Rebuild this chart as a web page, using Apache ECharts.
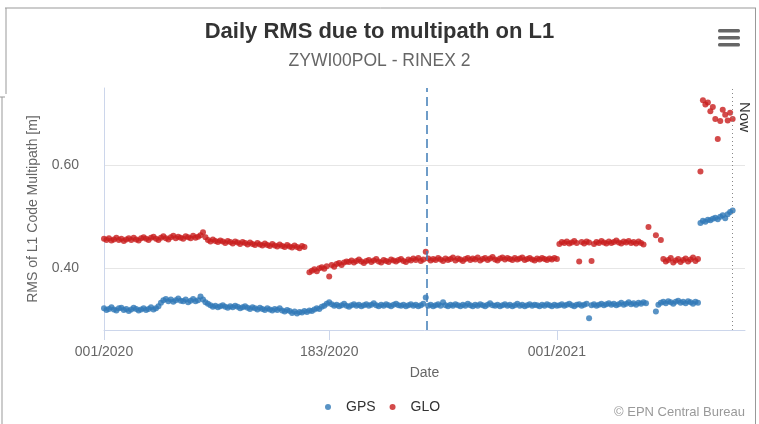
<!DOCTYPE html>
<html>
<head>
<meta charset="utf-8">
<title>Daily RMS due to multipath on L1</title>
<script src="https://cdn.jsdelivr.net/npm/echarts@6/dist/echarts.min.js"></script>
<style>
  html, body { margin: 0; padding: 0; background: #fff; }
  #main { width: 759px; height: 424px; }
</style>
</head>
<body>
<div id="main"></div>
<script>
// day of year counted from 001/2020, one value every 2 days
var dayStep = 2;
var xTickDays = [0, 182, 366];
var xTickLabels = ['001/2020', '183/2020', '001/2021'];
var yTickValues = [0.4, 0.6];
var markerDay = 261;   // dashed blue line
var nowDay = 508;      // "Now" dotted line

var gpsValues = [
  // 001 - 045
  0.322,0.319,0.321,0.324,0.320,0.318,0.322,0.323,0.319,0.321,0.317,0.320,0.323,0.321,0.318,0.320,0.322,0.319,0.321,0.324,0.320,0.322,0.326,
  // bump
  0.333,0.338,0.340,0.336,0.339,0.335,0.338,0.341,0.337,0.336,0.339,0.334,0.337,0.340,0.336,0.338,0.345,0.339,0.334,0.331,
  0.328,0.325,0.327,0.324,0.326,0.328,0.325,0.323,0.326,0.324,0.327,0.325,0.322,0.324,0.326,0.323,0.321,0.324,0.322,0.320,
  0.323,0.321,0.319,0.322,0.320,0.318,0.321,0.319,0.322,0.318,0.316,0.319,0.317,
  0.313,0.316,0.312,0.315,0.314,0.317,0.315,
  0.318,0.317,0.320,0.322,0.321,0.325,0.327,0.331,0.334,
  // 183/2020 - 001/2021
  0.330,0.327,0.329,0.326,0.328,0.331,0.327,0.325,0.328,0.330,
  0.327,0.329,0.326,0.328,0.330,0.327,0.329,0.332,0.328,0.326,
  0.329,0.327,0.330,0.328,0.326,0.329,0.331,0.328,0.327,0.329,
  0.326,0.328,0.330,0.327,0.329,0.326,0.328,0.331,0.343,0.327,
  0.329,0.326,0.328,0.330,0.327,0.334,0.328,0.326,0.329,0.327,
  0.330,0.328,0.326,0.329,0.327,0.331,0.328,0.326,0.329,0.327,
  0.330,0.328,0.326,0.329,0.332,0.328,0.327,0.329,0.326,0.328,
  0.330,0.327,0.329,0.326,0.328,0.331,0.327,0.329,0.326,0.328,
  0.330,0.327,0.329,0.328,0.326,0.329,0.327,0.330,0.328,0.326,
  0.329,0.327,
  // 2021
  0.328,0.330,0.327,0.329,0.331,0.328,0.326,0.329,0.330,0.327,
  0.329,0.331,0.303,0.328,0.330,0.327,0.329,0.331,0.328,0.330,
  0.332,0.329,0.331,0.328,0.330,0.333,0.329,0.331,0.334,0.330,
  0.332,0.329,0.333,0.331,0.334,0.332,
  null,null,null,
  0.316,0.329,0.333,0.335,0.332,0.336,0.334,0.331,0.335,0.337,0.333,0.335,0.332,0.336,0.334,0.331,0.335,0.333,
  0.488,0.492,0.490,0.494,0.493,0.496,0.498,0.495,0.500,0.503,0.497,0.505,0.509,0.512
];

var gloValues = [
  0.457,0.455,0.458,0.454,0.456,0.459,0.455,0.457,0.453,0.456,
  0.458,0.455,0.459,0.456,0.454,0.458,0.460,0.457,0.455,0.459,
  0.461,0.457,0.455,0.459,0.462,0.458,0.456,0.460,0.463,0.458,
  0.461,0.459,0.457,0.462,0.460,0.458,0.463,0.459,0.461,0.464,
  0.470,0.460,
  0.455,0.452,0.456,0.453,0.451,0.454,0.452,0.449,0.453,0.451,
  0.448,0.452,0.450,0.447,0.451,0.449,0.446,0.450,0.447,0.445,
  0.449,0.446,0.444,0.448,0.445,0.443,0.447,0.444,0.442,0.446,
  0.443,0.441,0.445,0.442,0.440,0.444,0.441,0.439,0.443,0.441,
  null,
  0.392,0.395,0.398,0.394,0.400,0.402,0.399,0.404,0.384,0.406,0.403,0.408,0.410,0.406,0.411,0.413,
  0.412,0.415,0.411,0.414,0.417,0.413,0.410,0.414,0.416,0.412,
  0.415,0.418,0.413,0.411,0.416,0.414,0.412,0.417,0.415,0.413,
  0.416,0.418,0.414,0.412,0.417,0.415,0.419,0.416,0.420,0.414,
  0.417,0.432,0.419,0.415,0.418,0.416,0.420,0.417,0.414,0.419,
  0.416,0.418,0.421,0.415,0.419,0.417,0.414,0.418,0.420,0.416,
  0.419,0.417,0.421,0.415,0.418,0.420,0.416,0.419,0.422,0.417,
  0.415,0.419,0.421,0.417,0.420,0.418,0.416,0.420,0.417,0.419,
  0.421,0.416,0.418,0.420,0.417,0.415,0.419,0.417,0.420,0.418,
  0.416,0.419,0.417,0.420,0.418,
  // 2021
  0.447,0.451,0.449,0.452,0.448,0.450,0.453,0.449,0.413,0.451,
  0.448,0.452,0.450,0.414,0.447,0.451,0.449,0.453,0.450,0.448,
  0.452,0.449,0.451,0.454,0.450,0.448,0.452,0.450,0.453,0.449,
  0.451,0.448,0.452,0.449,0.446,
  null,0.480,null,null,0.464,null,0.455,
  0.418,0.413,0.416,0.420,0.411,0.415,0.418,0.412,0.416,0.419,0.413,0.417,0.421,0.414,0.418,
  0.588,
  0.726,0.718,0.722,0.705,0.713,0.690,0.651,0.686,0.708,0.698,0.687,0.702,0.690
];

function toPoints(values) {
  var pts = [];
  values.forEach(function (v, i) {
    if (v != null) pts.push([i * dayStep, v]);
  });
  return pts;
}

var myChart = echarts.init(document.getElementById('main'));

var option = {
  backgroundColor: '#fff',
  animation: false,
  textStyle: { fontFamily: 'Liberation Sans, Arial, sans-serif' },
  title: {
    text: 'Daily RMS due to multipath on L1',
    subtext: 'ZYWI00POL - RINEX 2',
    left: 'center',
    top: 16,
    itemGap: 9,
    textStyle: { fontSize: 22, fontWeight: 'bold', color: '#333' },
    subtextStyle: { fontSize: 17.5, color: '#666' }
  },
  legend: {
    data: ['GPS', 'GLO'],
    icon: 'circle',
    itemWidth: 20,
    itemHeight: 6,
    itemGap: 14,
    left: 320,
    top: 395,
    textStyle: { fontSize: 14, color: '#333', padding: [0, 0, 0, 3] }
  },
  grid: { left: 104, right: 14, top: 88, bottom: 94 },
  xAxis: {
    type: 'value',
    min: 0,
    max: 518,
    name: 'Date',
    nameLocation: 'middle',
    nameGap: 36,
    nameTextStyle: { fontSize: 14, color: '#666' },
    axisLine: { show: true, lineStyle: { color: '#ccd6eb' } },
    axisTick: { show: true, length: 10, customValues: xTickDays, lineStyle: { color: '#ccd6eb' } },
    axisLabel: {
      customValues: xTickDays,
      fontSize: 14,
      color: '#666',
      margin: 15,
      formatter: function (v) { return xTickLabels[xTickDays.indexOf(v)]; }
    },
    splitLine: { show: false }
  },
  yAxis: {
    type: 'value',
    min: 0.28,
    max: 0.75,
    name: 'RMS of L1 Code Multipath [m]',
    nameLocation: 'middle',
    nameGap: 64,
    nameTextStyle: { fontSize: 14, color: '#666' },
    axisLine: { show: true, lineStyle: { color: '#ccd6eb' } },
    axisTick: { show: false, customValues: yTickValues },
    axisLabel: {
      customValues: yTickValues,
      fontSize: 14,
      color: '#666',
      margin: 25,
      formatter: function (v) { return v.toFixed(2); }
    },
    splitLine: { show: true, lineStyle: { color: '#e6e6e6' } }
  },
  series: [
    {
      name: 'GPS',
      type: 'scatter',
      symbolSize: 6,
      itemStyle: { color: '#2f78b6' },
      data: toPoints(gpsValues),
      markLine: {
        silent: true,
        symbol: 'none',
        label: { show: false },
        data: [
          { xAxis: markerDay, lineStyle: { color: '#3f7cb6', width: 1.5, type: [9, 5] } },
          { xAxis: nowDay, lineStyle: { color: '#888', width: 1, type: [1, 3] } }
        ]
      }
    },
    {
      name: 'GLO',
      type: 'scatter',
      symbolSize: 6,
      itemStyle: { color: '#c81d1d' },
      data: toPoints(gloValues)
    }
  ],
  graphic: [
    // outer frame
    { type: 'line', shape: { x1: 5, y1: 8, x2: 756, y2: 8 }, style: { stroke: '#999', lineWidth: 1 } },
    { type: 'line', shape: { x1: 6, y1: 8, x2: 6, y2: 94 }, style: { stroke: '#999', lineWidth: 1 } },
    { type: 'line', shape: { x1: 0, y1: 97, x2: 5, y2: 97 }, style: { stroke: '#999', lineWidth: 1 } },
    { type: 'line', shape: { x1: 2, y1: 97, x2: 2, y2: 424 }, style: { stroke: '#999', lineWidth: 1 } },
    { type: 'line', shape: { x1: 755.5, y1: 8, x2: 755.5, y2: 424 }, style: { stroke: '#999', lineWidth: 1 } },
    // menu button
    { type: 'rect', shape: { x: 718, y: 29, width: 22, height: 3.5, r: 1.5 }, style: { fill: '#666' } },
    { type: 'rect', shape: { x: 718, y: 36, width: 22, height: 3.5, r: 1.5 }, style: { fill: '#666' } },
    { type: 'rect', shape: { x: 718, y: 43, width: 22, height: 3.5, r: 1.5 }, style: { fill: '#666' } },
    // credits
    { type: 'text', right: 14, top: 406, style: { text: '\u00a9 EPN Central Bureau', fontSize: 13, fill: '#999', fontFamily: 'Liberation Sans, Arial, sans-serif' } }
  ]
};

myChart.setOption(option);

// "Now" label to the right of its plot line, reading downwards
var nowPos = myChart.convertToPixel({ gridIndex: 0 }, [nowDay, 0.75]);
myChart.setOption({
  graphic: option.graphic.concat([{
    type: 'text',
    x: nowPos[0] + 19,
    y: nowPos[1] + 14,
    rotation: -Math.PI / 2,
    style: { text: 'Now', fontSize: 15, fill: '#333', fontFamily: 'Liberation Sans, Arial, sans-serif' }
  }])
});
</script>
</body>
</html>
